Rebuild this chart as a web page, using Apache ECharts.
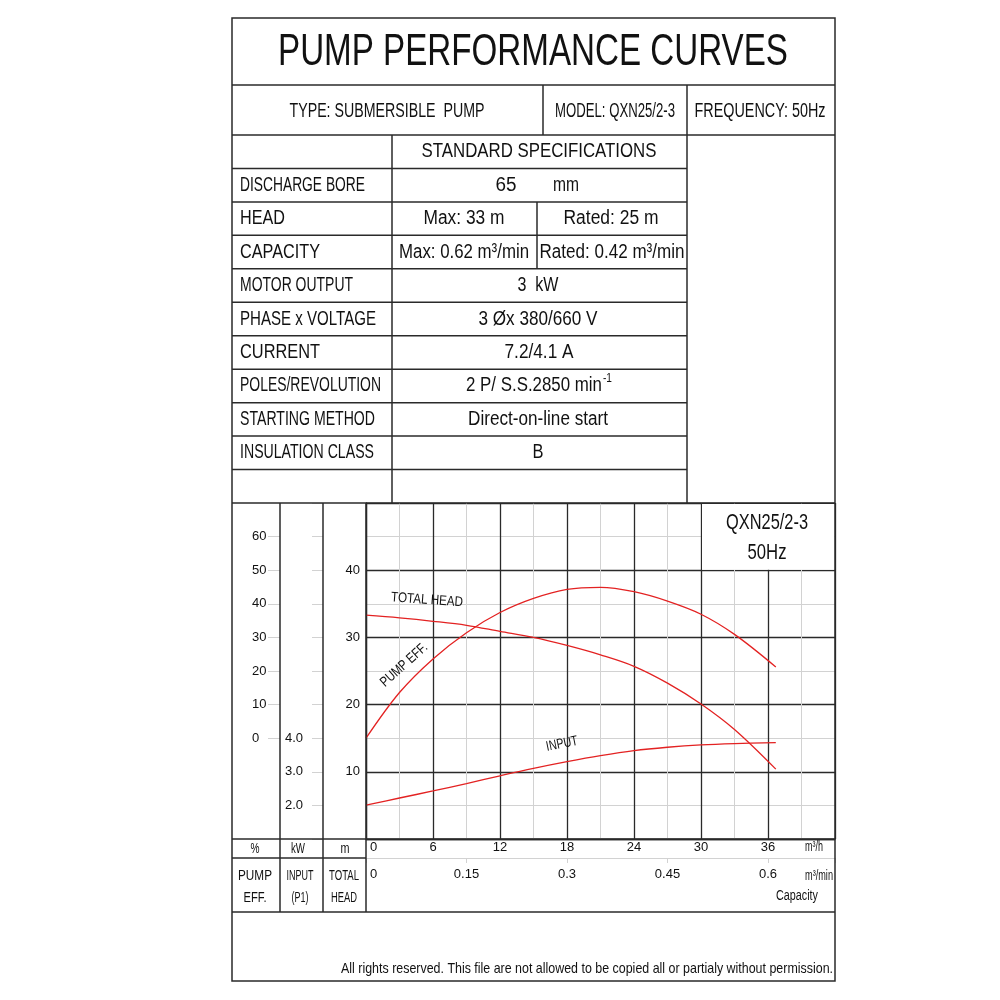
<!DOCTYPE html>
<html>
<head>
<meta charset="utf-8">
<script src="https://cdn.jsdelivr.net/npm/echarts@6/dist/echarts.min.js"></script>
<style>
  html, body { margin: 0; padding: 0; background: #fff; }
  #chart { width: 1000px; height: 1000px; }
</style>
</head>
<body>
<div id="chart"></div>
<script>
// flow in m3/h
const flow = [0, 3, 6, 9, 12, 15, 18, 21, 24, 27, 30, 33, 36.7]
const totalHead = [33.3, 32.9, 32.4, 31.8, 30.9, 30.0, 28.8, 27.4, 25.7, 23.2, 20.1, 16.3, 10.4]
const pumpEff = [0, 13.6, 23.6, 31.4, 37.4, 41.6, 44.3, 44.9, 43.6, 40.8, 36.9, 30.9, 21.2]
const inputPower = [2.01, 2.22, 2.43, 2.65, 2.88, 3.10, 3.30, 3.48, 3.63, 3.73, 3.80, 3.84, 3.87]

// tick labels
const flowTicks = [0, 6, 12, 18, 24, 30, 36]
const capTicks = [0, 0.15, 0.3, 0.45, 0.6]
const headTicks = [10, 20, 30, 40]
const effTicks = [0, 10, 20, 30, 40, 50, 60]
const kwTicks = [2, 3, 4]

// spec table
const specLabels = ['DISCHARGE BORE', 'HEAD', 'CAPACITY', 'MOTOR OUTPUT', 'PHASE x VOLTAGE',
  'CURRENT', 'POLES/REVOLUTION', 'STARTING METHOD', 'INSULATION CLASS']

const FONT = 'Liberation Sans'
const DARK = '#2a2a2a'
const LIGHT = '#d2d2d2'
const RED = '#e32222'

// plot box
const GL = 366, GT = 503, GW = 469, GH = 336
const yHead = (h) => GT + GH * (50 - h) / 50
const xFlow = (q) => GL + GW * q / 42

const mctx = document.createElement('canvas').getContext('2d')
// text squeezed to a given width (the drawing uses a narrow font)
function fit(str, x, y, size, width, align, extra) {
  mctx.font = size + 'px "' + FONT + '"'
  const w = mctx.measureText(str).width
  return Object.assign({
    type: 'text', x: x, y: y, z: 100,
    scaleX: width / w,
    style: {
      text: str, fontSize: size, fontFamily: FONT, fill: '#111',
      align: align || 'center', textAlign: align || 'center',
      verticalAlign: 'middle', textVerticalAlign: 'middle'
    }
  }, extra || {})
}
function line(x1, y1, x2, y2, color, w) {
  return { type: 'line', z: 100, shape: { x1, y1, x2, y2 }, style: { stroke: color || DARK, lineWidth: w || 1.5 } }
}

const rowH = (503 - 135) / 11
const rowY = (i) => 135 + rowH * (i + 0.5)

const graphic = []
// outer frame and table lines
graphic.push({ type: 'rect', z: 100, shape: { x: 232, y: 18, width: 603, height: 963 }, style: { fill: 'none', stroke: DARK, lineWidth: 1.5 } })
graphic.push(line(232, 85, 835, 85), line(232, 135, 835, 135))
graphic.push(line(543, 85, 543, 135), line(687, 85, 687, 503), line(392, 135, 392, 503))
for (let i = 1; i <= 10; i++) graphic.push(line(232, 135 + rowH * i, 687, 135 + rowH * i))
graphic.push(line(537, 135 + rowH * 2, 537, 135 + rowH * 4))
graphic.push(line(232, 503, 835, 503))
graphic.push(line(280, 503, 280, 912), line(323, 503, 323, 912), line(366, 503, 366, 912))
graphic.push(line(232, 839, 835, 839), line(232, 858, 366, 858), line(232, 912, 835, 912))

// white legend box in the top right of the plot
graphic.push({
  type: 'rect', z: 50,
  shape: { x: xFlow(30) + 1, y: GT + 1, width: GL + GW - xFlow(30) - 1.5, height: yHead(40) - GT - 1.5 },
  style: { fill: '#fff' }
})

// header texts
graphic.push(fit('PUMP PERFORMANCE CURVES', 533, 53, 44, 510))
graphic.push(fit('TYPE: SUBMERSIBLE  PUMP', 387, 111, 20, 195))
graphic.push(fit('MODEL: QXN25/2-3', 615, 111, 20, 120))
graphic.push(fit('FREQUENCY: 50Hz', 760, 111, 20, 131))
graphic.push(fit('STANDARD SPECIFICATIONS', 539, rowY(0), 20, 235))

const labelW = [125, 45, 80, 113, 136, 80, 141, 135, 134]
specLabels.forEach((s, i) => graphic.push(fit(s, 240, rowY(i + 1), 20, labelW[i], 'left')))

graphic.push(fit('65', 506, rowY(1), 20, 21), fit('mm', 566, rowY(1), 20, 26))
graphic.push(fit('Max: 33 m', 464, rowY(2), 20, 81), fit('Rated: 25 m', 611, rowY(2), 20, 95))
graphic.push(fit('Max: 0.62 m³/min', 464, rowY(3), 20, 130), fit('Rated: 0.42 m³/min', 612, rowY(3), 20, 145))
graphic.push(fit('3  kW', 538, rowY(4), 20, 41))
graphic.push(fit('3 Øx 380/660 V', 538, rowY(5), 20, 119))
graphic.push(fit('7.2/4.1 A', 539, rowY(6), 20, 69))
graphic.push(fit('2 P/ S.S.2850 min', 534, rowY(7), 20, 136), fit('-1', 603, rowY(7) - 7, 12, 9, 'left'))
graphic.push(fit('Direct-on-line start', 538, rowY(8), 20, 140))
graphic.push(fit('B', 538, rowY(9), 20, 11))

// chart side captions
graphic.push(fit('%', 255, 849, 15, 9), fit('kW', 298, 849, 15, 14), fit('m', 345, 849, 15, 9))
graphic.push(fit('PUMP', 255, 876, 15, 34), fit('EFF.', 255, 898, 15, 23))
graphic.push(fit('INPUT', 300, 876, 15, 27), fit('(P1)', 300, 898, 15, 17))
graphic.push(fit('TOTAL', 344, 876, 15, 30), fit('HEAD', 344, 898, 15, 26))
graphic.push(fit('m³/h', 814, 847, 14, 18), fit('m³/min', 819, 876, 14, 28), fit('Capacity', 797, 896, 14, 42))
graphic.push(fit('QXN25/2-3', 767, 523, 22, 82), fit('50Hz', 767, 553, 22, 39))

// curve names
graphic.push(fit('TOTAL HEAD', 427, 600, 14, 72, 'center', { rotation: -0.07 }))
graphic.push(fit('PUMP EFF.', 404, 665, 14, 58, 'center', { rotation: 0.73 }))
graphic.push(fit('INPUT', 562, 744, 14, 32, 'center', { rotation: 0.2 }))

graphic.push(fit('All rights reserved. This file are not allowed to be copied all or partialy without permission.', 833, 969, 15, 492, 'right'))

const labelStyle = { fontSize: 13, color: '#111', fontFamily: FONT }
const near = (arr, v) => arr.some((t) => Math.abs(t - v) < 1e-6)
// the zero labels sit a little right of the axis start
const zeroRich = { z: { fontSize: 13, color: '#111', fontFamily: FONT, padding: [0, 0, 0, 4] } }
const bottomLabel = (arr) => (v) => {
  if (!near(arr, v)) return ''
  return v === 0 ? '{z|0}' : String(+v.toFixed(2))
}

const option = {
  animation: false,
  backgroundColor: '#fff',
  textStyle: { fontFamily: FONT },
  grid: [
    { left: GL, top: GT, width: GW, height: GH },
    { left: GL, top: yHead(45), width: GW, height: yHead(15) - yHead(45) }
  ],
  xAxis: [
    {
      gridIndex: 0, type: 'value', position: 'bottom', min: 0, max: 42, interval: 6,
      axisLine: { show: true, onZero: false, lineStyle: { color: DARK, width: 1.3 } },
      axisTick: { show: false },
      axisLabel: Object.assign({ margin: 2, alignMinLabel: 'left', rich: zeroRich, formatter: bottomLabel(flowTicks) }, labelStyle),
      splitLine: { show: true, lineStyle: { color: DARK, width: 1.3 } },
      minorTick: { show: false, splitNumber: 2 },
      minorSplitLine: { show: true, lineStyle: { color: LIGHT, width: 1 } }
    },
    {
      gridIndex: 0, type: 'value', position: 'bottom', min: 0, max: 0.7, interval: 0.15, offset: 19,
      axisLine: { show: true, onZero: false, lineStyle: { color: LIGHT, width: 1 } },
      axisTick: { show: true, length: 5, lineStyle: { color: LIGHT } },
      axisLabel: Object.assign({ margin: 10, alignMinLabel: 'left', rich: zeroRich, formatter: bottomLabel(capTicks) }, labelStyle),
      splitLine: { show: false }
    },
    { gridIndex: 1, type: 'value', min: 0, max: 42, show: false, axisLine: { onZero: false } }
  ],
  yAxis: [
    {
      gridIndex: 0, type: 'value', position: 'left', min: 0, max: 50, interval: 10,
      axisLine: { show: true, onZero: false, lineStyle: { color: DARK, width: 1.3 } },
      axisTick: { show: false },
      axisLabel: Object.assign({ margin: 6, formatter: (v) => (near(headTicks, v) ? String(v) : '') }, labelStyle),
      splitLine: { show: true, lineStyle: { color: DARK, width: 1.3 } },
      minorTick: { show: false, splitNumber: 2 },
      minorSplitLine: { show: true, lineStyle: { color: LIGHT, width: 1 } }
    },
    {
      gridIndex: 0, type: 'value', position: 'left', min: 1, max: 11, interval: 1, offset: GL - 323,
      axisLine: { show: false, onZero: false },
      axisTick: { show: true, length: 11, lineStyle: { color: LIGHT } },
      axisLabel: Object.assign({ margin: 38, align: 'left', formatter: (v) => (near(kwTicks, v) ? v.toFixed(1) : '') }, labelStyle),
      splitLine: { show: false }
    },
    {
      gridIndex: 1, type: 'value', position: 'left', min: 0, max: 60, interval: 10, offset: GL - 280,
      axisLine: { show: false, onZero: false },
      axisTick: { show: true, length: 12, lineStyle: { color: LIGHT } },
      axisLabel: Object.assign({ margin: 28, align: 'left', formatter: (v) => (near(effTicks, v) ? String(v) : '') }, labelStyle),
      splitLine: { show: false }
    }
  ],
  series: [
    {
      name: 'TOTAL HEAD', type: 'line', xAxisIndex: 0, yAxisIndex: 0,
      data: flow.map((q, i) => [q, totalHead[i]]),
      smooth: 0.35, symbol: 'none', clip: false, z: 5,
      lineStyle: { color: RED, width: 1.3 }
    },
    {
      name: 'INPUT', type: 'line', xAxisIndex: 0, yAxisIndex: 1,
      data: flow.map((q, i) => [q, inputPower[i]]),
      smooth: 0.35, symbol: 'none', clip: false, z: 5,
      lineStyle: { color: RED, width: 1.3 }
    },
    {
      name: 'PUMP EFF.', type: 'line', xAxisIndex: 2, yAxisIndex: 2,
      data: flow.map((q, i) => [q, pumpEff[i]]),
      smooth: 0.35, symbol: 'none', clip: false, z: 5,
      lineStyle: { color: RED, width: 1.3 }
    }
  ],
  graphic: graphic
}

const chart = echarts.init(document.getElementById('chart'))
chart.setOption(option)
</script>
</body>
</html>
